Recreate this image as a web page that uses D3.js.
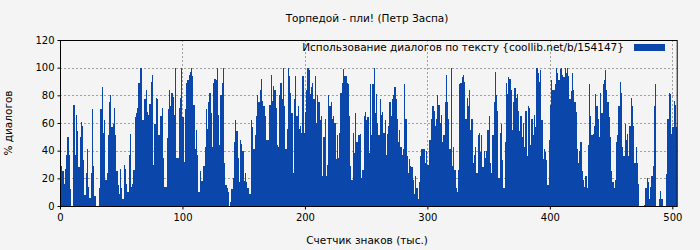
<!DOCTYPE html>
<html>
<head>
<meta charset="utf-8">
<script src="https://cdn.jsdelivr.net/npm/d3@7/dist/d3.min.js"></script>
<style>
body { margin: 0; background: #f4f4f4; }
text { font-family: "DejaVu Sans", sans-serif; fill: #000; }
</style>
</head>
<body>
<svg id="chart"></svg>
<script>
const title = "Торпедой - пли! (Петр Заспа)";
const legendLabel = "Использование диалогов по тексту {coollib.net/b/154147}";
const xLabel = "Счетчик знаков (тыс.)";
const yLabel = "% диалогов";
const yTicks = [0, 20, 40, 60, 80, 100, 120];
const xTicks = [0, 100, 200, 300, 400, 500];
const xMax = 504.4;

// % of dialogue per thousand characters
const dialogPct = [
  36,29,25,16,27,37,50,37,12,0,0,73,37,66,54,28,50,61,58,33,8,24,41,14,6,24,70,29,7,0,0,0,13,70,86,53,62,19,24,51,75,80,
  57,59,71,51,25,15,9,27,13,5,30,27,16,10,37,52,14,16,26,64,67,71,89,100,100,62,62,77,84,68,66,74,90,95,30,59,78,77,51,51,65,71,35,
  14,14,49,70,84,72,82,79,66,100,35,35,71,78,100,64,32,70,89,91,95,97,100,94,73,41,55,37,10,25,18,18,29,43,70,56,75,82,67,43,89,92,
  91,100,66,44,80,89,100,31,15,13,10,0,3,12,20,46,62,54,35,17,48,45,40,18,24,17,13,9,9,62,57,41,51,65,80,75,84,92,76,72,65,48,48,
  48,73,95,76,87,84,71,44,43,80,89,77,100,72,41,56,100,94,82,67,24,77,94,65,72,56,58,53,94,53,68,84,100,98,81,86,89,77,94,60,80,75,
  62,65,22,50,63,22,30,80,72,75,63,65,60,34,51,35,53,82,89,99,94,94,89,88,65,29,19,53,38,67,46,51,51,52,20,26,65,68,62,64,38,88,51,
  88,100,67,81,60,51,77,66,68,53,62,37,52,58,75,65,77,80,86,77,63,46,55,43,37,41,88,63,36,24,34,29,28,19,9,22,13,5,17,36,41,41,
  41,31,40,30,48,48,63,72,69,58,63,80,73,60,66,46,51,75,95,75,63,41,100,29,43,26,13,10,26,88,89,93,95,90,63,78,72,84,55,63,31,37,43,
  24,51,53,39,51,28,40,35,40,55,65,31,24,51,75,97,80,69,20,53,59,33,13,46,89,81,93,92,84,55,75,85,78,81,69,54,65,50,60,43,69,36,
  72,71,44,63,51,66,57,100,96,90,98,62,34,41,39,33,15,48,73,91,84,84,88,100,96,91,99,100,95,93,100,96,100,94,77,83,96,84,75,68,41,31,40,
  46,25,19,14,22,13,44,88,65,51,52,58,81,72,63,50,82,67,88,91,98,84,75,64,50,25,17,13,19,46,51,72,90,82,43,36,59,48,52,36,58,78,
  72,58,31,43,31,16,0,0,0,0,1,13,20,17,5,14,22,29,72,88,0,0,5,11,5,0,0,0,23,63,82,81,52,57,76,73,57
];

const W = 700, H = 250;
const m = { left: 60, right: 22.3, top: 40, bottom: 44 };
const barColor = "#0b46ab";
const fontSize = "10.5px";

const svg = d3.select("#chart").attr("width", W).attr("height", H);

const x = d3.scaleLinear().domain([0, xMax]).range([m.left, W - m.right]);
const y = d3.scaleLinear().domain([0, 120]).range([H - m.bottom, m.top]);

// grid
const grid = svg.append("g").attr("stroke", "#a0a0a0").attr("stroke-dasharray", "2,2");
grid.selectAll("line.h").data(yTicks.filter(d => d > 0 && d < 120)).enter().append("line")
  .attr("x1", x(0)).attr("x2", x(xMax))
  .attr("y1", d => Math.round(y(d)) + 0.5).attr("y2", d => Math.round(y(d)) + 0.5);
grid.selectAll("line.v").data(xTicks.filter(d => d > 0)).enter().append("line")
  .attr("x1", d => Math.round(x(d)) + 0.5).attr("x2", d => Math.round(x(d)) + 0.5)
  .attr("y1", y(0)).attr("y2", y(120));

// bars, snapped to whole pixels so they sit edge to edge
svg.append("g")
  .attr("shape-rendering", "crispEdges")
  .selectAll("rect")
  .data(dialogPct)
  .enter()
  .append("rect")
  .attr("x", (d, i) => Math.round(x(i)))
  .attr("width", (d, i) => Math.round(x(i + 1)) - Math.round(x(i)))
  .attr("y", d => Math.round(y(d)))
  .attr("height", d => Math.round(y(0)) - Math.round(y(d)))
  .attr("fill", barColor);

// frame
svg.append("rect")
  .attr("x", x(0) + 0.5).attr("y", y(120) + 0.5)
  .attr("width", x(xMax) - x(0) - 1).attr("height", y(0) - y(120))
  .attr("fill", "none").attr("stroke", "#000");

// axes
const yAxis = d3.axisLeft(y).tickValues(yTicks).tickSize(3).tickPadding(3);
svg.append("g").attr("transform", `translate(${x(0) + 0.5},0)`).call(yAxis)
  .call(g => g.select(".domain").remove())
  .call(g => g.selectAll("text").style("font-size", "10px").style("font-family", "DejaVu Sans"));

const xAxis = d3.axisBottom(x).tickValues(xTicks).tickSize(3).tickPadding(4);
svg.append("g").attr("transform", `translate(0,${y(0) + 0.5})`).call(xAxis)
  .call(g => g.select(".domain").remove())
  .call(g => g.selectAll("text").style("font-size", "10px").style("font-family", "DejaVu Sans"));

// texts
svg.append("text").attr("x", 367).attr("y", 22).attr("text-anchor", "middle")
  .style("font-size", fontSize).text(title);
svg.append("text").attr("x", 367).attr("y", 244).attr("text-anchor", "middle")
  .style("font-size", fontSize).text(xLabel);
svg.append("text").attr("transform", "translate(12,123) rotate(-90)").attr("text-anchor", "middle")
  .style("font-size", fontSize).text(yLabel);

// legend
svg.append("text").attr("x", 624).attr("y", 51).attr("text-anchor", "end")
  .style("font-size", fontSize).text(legendLabel);
svg.append("rect").attr("x", 634).attr("y", 44).attr("width", 31).attr("height", 7).attr("fill", barColor);
</script>
</body>
</html>
